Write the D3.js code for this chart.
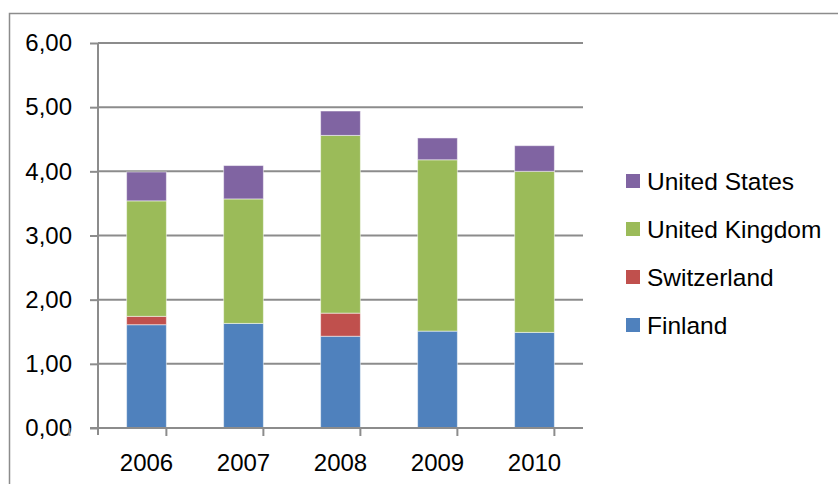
<!DOCTYPE html>
<html>
<head>
<meta charset="utf-8">
<script src="https://cdn.jsdelivr.net/npm/d3@7"></script>
<style>
	body { margin: 0; background: #ffffff; }
	text { font-family: "Liberation Sans", Arial, sans-serif; fill: #000000; }
	.gridLine { stroke: #8c8c8c; stroke-width: 2; }
	.axisLine { stroke: #8c8c8c; stroke-width: 2; fill: none; }
</style>
</head>
<body>
<svg id="chart" width="838" height="484"></svg>
<script>
//values
var years = ["2006", "2007", "2008", "2009", "2010"];
var seriesNames = ["Finland", "Switzerland", "United Kingdom", "United States"];
var finland = [1.61, 1.63, 1.43, 1.51, 1.49];
var switzerland = [0.13, 0.00, 0.36, 0.00, 0.00];
var unitedKingdom = [1.80, 1.94, 2.77, 2.67, 2.51];
var unitedStates = [0.45, 0.52, 0.38, 0.34, 0.40];
var yTicks = [0, 1, 2, 3, 4, 5, 6];

var COLORS = ["#4f81bd", "#c0504d", "#9bbb59", "#8064a2"];

var PLOT_LEFT = 98;
var PLOT_RIGHT = 583;
var PLOT_TOP = 43;
var PLOT_BOTTOM = 428;

var svg = d3.select("#chart");

//outer chart border
svg.append("rect")
	.attr("x", 9.5)
	.attr("y", 13.5)
	.attr("width", 840)
	.attr("height", 480)
	.attr("fill", "none")
	.attr("stroke", "#8c8c8c")
	.attr("stroke-width", 1.5);

var x = d3.scaleBand()
	.domain(years)
	.range([PLOT_LEFT, PLOT_RIGHT])
	.paddingInner(0.59)
	.paddingOuter(0.295);

var y = d3.scaleLinear()
	.domain([0, 6])
	.range([PLOT_BOTTOM, PLOT_TOP]);

//gridlines
svg.append("g")
	.selectAll("line")
	.data(yTicks.slice(1))
	.enter()
	.append("line")
	.attr("class", "gridLine")
	.attr("x1", PLOT_LEFT)
	.attr("x2", PLOT_RIGHT)
	.attr("y1", function(d) { return y(d); })
	.attr("y2", function(d) { return y(d); });

//stacked bars
var table = years.map(function(yr, i) {
	return {
		year: yr,
		"Finland": finland[i],
		"Switzerland": switzerland[i],
		"United Kingdom": unitedKingdom[i],
		"United States": unitedStates[i]
	};
});
var stacked = d3.stack().keys(seriesNames)(table);

svg.append("g")
	.selectAll("g")
	.data(stacked)
	.enter()
	.append("g")
	.attr("fill", function(d, i) { return COLORS[i]; })
	.selectAll("rect")
	.data(function(d) { return d; })
	.enter()
	.filter(function(d) { return d[1] - d[0] > 0; })
	.append("rect")
	.attr("x", function(d) { return x(d.data.year); })
	.attr("width", x.bandwidth())
	.attr("y", function(d) { return y(d[1]); })
	.attr("height", function(d) { return y(d[0]) - y(d[1]); })
	.attr("stroke", "#ffffff")
	.attr("stroke-opacity", 0.5)
	.attr("stroke-width", 1);

//y axis
var yAxis = d3.axisLeft(y)
	.tickValues(yTicks)
	.tickSize(8)
	.tickPadding(18)
	.tickFormat(function(d) { return d3.format(".2f")(d).replace(".", ","); });

var yG = svg.append("g")
	.attr("transform", "translate(" + PLOT_LEFT + ",0)")
	.call(yAxis);
yG.select(".domain").remove();
yG.selectAll(".tick line").attr("stroke", "#8c8c8c").attr("stroke-width", 2);
yG.selectAll(".tick text")
	.style("font-family", "'Liberation Sans', Arial, sans-serif")
	.style("font-size", "24px")
	.attr("fill", "#000000");
yG.append("line")
	.attr("class", "axisLine")
	.attr("x1", 0).attr("x2", 0)
	.attr("y1", PLOT_TOP).attr("y2", PLOT_BOTTOM + 7);

//x axis
var xG = svg.append("g")
	.attr("transform", "translate(0," + PLOT_BOTTOM + ")");
xG.append("line")
	.attr("class", "axisLine")
	.attr("x1", PLOT_LEFT - 8).attr("x2", PLOT_RIGHT)
	.attr("y1", 0).attr("y2", 0);

var step = x.step();
var boundaries = d3.range(years.length + 1).map(function(i) {
	return x(years[0]) - x.paddingOuter() * step - x.paddingInner() * step / 2 + i * step;
});
xG.selectAll(".xTick")
	.data(boundaries)
	.enter()
	.append("line")
	.attr("class", "axisLine")
	.attr("x1", function(d) { return d; })
	.attr("x2", function(d) { return d; })
	.attr("y1", 0)
	.attr("y2", 8);

xG.selectAll(".xLabel")
	.data(years)
	.enter()
	.append("text")
	.attr("x", function(d) { return x(d) + x.bandwidth() / 2; })
	.attr("y", 43)
	.attr("text-anchor", "middle")
	.style("font-size", "24px")
	.text(function(d) { return d; });

//legend, top item is last series
var legend = svg.append("g")
	.attr("transform", "translate(626,174)");

var legendItems = legend.selectAll(".legendItem")
	.data(seriesNames.slice().reverse())
	.enter()
	.append("g")
	.attr("transform", function(d, i) { return "translate(0," + (i * 48) + ")"; });

legendItems.append("rect")
	.attr("width", 14)
	.attr("height", 14)
	.attr("fill", function(d) { return COLORS[seriesNames.indexOf(d)]; });

legendItems.append("text")
	.attr("x", 21)
	.attr("y", 16)
	.style("font-size", "24.5px")
	.text(function(d) { return d; });
</script>
</body>
</html>
